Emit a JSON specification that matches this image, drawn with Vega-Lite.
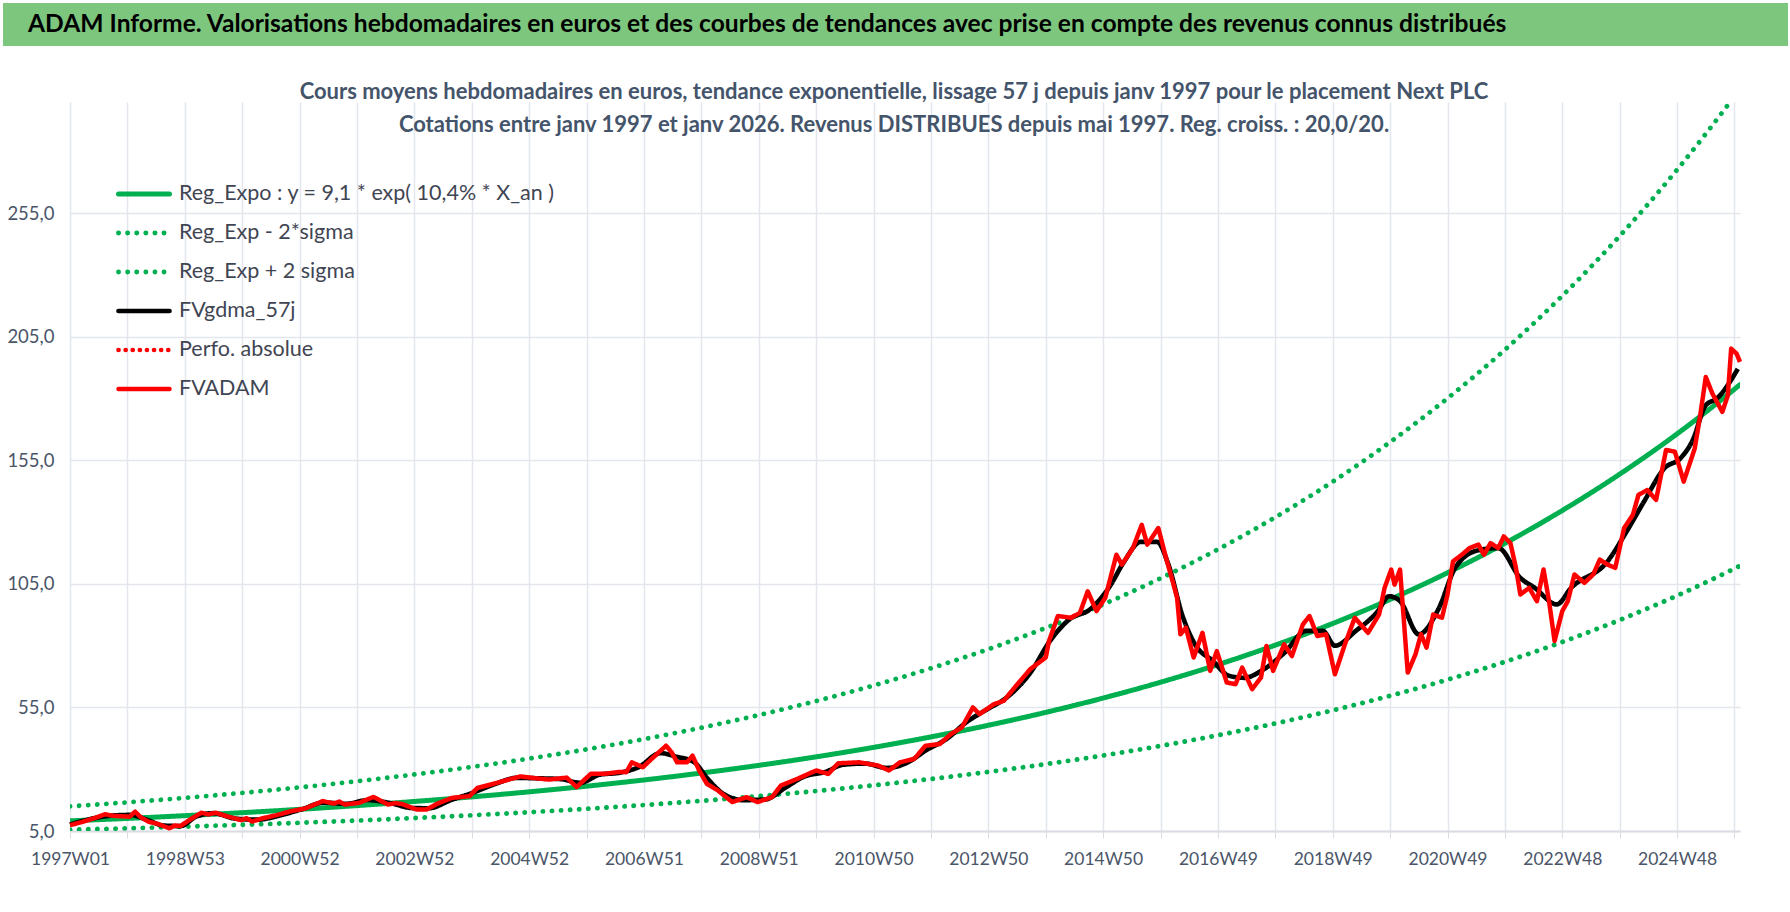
{
  "$schema": "https://vega.github.io/schema/vega-lite/v6.json",
  "width": 1790,
  "height": 912,
  "padding": {"left": 2, "top": 3, "right": 0, "bottom": 0},
  "background": "white",
  "spacing": 35,
  "config": {
    "font": "Lato, DejaVu Sans Condensed, sans-serif",
    "view": {"stroke": null}
  },
  "datasets": {
    "fv": [
      {"w": 0, "v": 7.4}, {"w": 5, "v": 7.9}, {"w": 12, "v": 8.8}, {"w": 20, "v": 9.9}, {"w": 32, "v": 11.8}, {"w": 38, "v": 11.2}, {"w": 45, "v": 11.0}, {"w": 54, "v": 10.8}, {"w": 59, "v": 12.8},
      {"w": 64, "v": 10.6}, {"w": 71, "v": 8.8}, {"w": 80, "v": 7.8}, {"w": 90, "v": 6.1}, {"w": 95, "v": 7.2}, {"w": 100, "v": 7.0}, {"w": 108, "v": 9.4}, {"w": 119, "v": 12.4},
      {"w": 125, "v": 11.7}, {"w": 132, "v": 12.4}, {"w": 142, "v": 11.0}, {"w": 155, "v": 9.4}, {"w": 160, "v": 10.2}, {"w": 165, "v": 8.8}, {"w": 174, "v": 10.1}, {"w": 187, "v": 11.4},
      {"w": 200, "v": 13.0}, {"w": 213, "v": 14.1}, {"w": 229, "v": 17.1}, {"w": 239, "v": 16.1}, {"w": 244, "v": 16.9}, {"w": 249, "v": 15.7}, {"w": 262, "v": 16.4}, {"w": 275, "v": 18.8},
      {"w": 288, "v": 15.7}, {"w": 295, "v": 16.3}, {"w": 301, "v": 15.9}, {"w": 314, "v": 13.7}, {"w": 323, "v": 13.7}, {"w": 333, "v": 16.1}, {"w": 346, "v": 18.4}, {"w": 362, "v": 19.1},
      {"w": 369, "v": 22.4}, {"w": 382, "v": 23.9}, {"w": 395, "v": 25.5}, {"w": 408, "v": 27.1}, {"w": 421, "v": 26.4}, {"w": 434, "v": 25.8}, {"w": 450, "v": 26.6}, {"w": 459, "v": 22.8},
      {"w": 472, "v": 28.2}, {"w": 485, "v": 28.2}, {"w": 498, "v": 28.9}, {"w": 504, "v": 28.8}, {"w": 509, "v": 32.8}, {"w": 519, "v": 30.8}, {"w": 527, "v": 34.2}, {"w": 540, "v": 39.5},
      {"w": 545, "v": 36.9}, {"w": 550, "v": 32.8}, {"w": 559, "v": 32.8}, {"w": 564, "v": 35.5}, {"w": 570, "v": 29.5}, {"w": 577, "v": 24.1}, {"w": 587, "v": 21.4}, {"w": 600, "v": 16.7},
      {"w": 613, "v": 18.7}, {"w": 623, "v": 16.7}, {"w": 636, "v": 18.7}, {"w": 644, "v": 23.4}, {"w": 659, "v": 26.1}, {"w": 676, "v": 29.5}, {"w": 687, "v": 28.1}, {"w": 696, "v": 32.4},
      {"w": 715, "v": 32.8}, {"w": 732, "v": 31.5}, {"w": 742, "v": 29.5}, {"w": 752, "v": 32.8}, {"w": 765, "v": 34.2}, {"w": 775, "v": 39.5}, {"w": 788, "v": 40.2}, {"w": 798, "v": 44.2},
      {"w": 808, "v": 46.9}, {"w": 818, "v": 55.0}, {"w": 824, "v": 52.3}, {"w": 837, "v": 56.3}, {"w": 846, "v": 57.7}, {"w": 857, "v": 63.7}, {"w": 870, "v": 70.5}, {"w": 884, "v": 75.2},
      {"w": 887, "v": 81.9}, {"w": 895, "v": 92.0}, {"w": 907, "v": 91.3}, {"w": 915, "v": 93.3}, {"w": 922, "v": 102.0}, {"w": 930, "v": 94.0}, {"w": 938, "v": 99.4}, {"w": 948, "v": 116.8},
      {"w": 953, "v": 112.8}, {"w": 963, "v": 119.5}, {"w": 971, "v": 128.9}, {"w": 976, "v": 120.9}, {"w": 986, "v": 127.6}, {"w": 993, "v": 115.5}, {"w": 999, "v": 106.0}, {"w": 1003, "v": 99.4},
      {"w": 1006, "v": 84.6}, {"w": 1011, "v": 87.3}, {"w": 1018, "v": 75.2}, {"w": 1026, "v": 85.2}, {"w": 1033, "v": 69.8}, {"w": 1039, "v": 77.8}, {"w": 1048, "v": 65.1}, {"w": 1056, "v": 64.4},
      {"w": 1062, "v": 71.1}, {"w": 1071, "v": 62.4}, {"w": 1079, "v": 67.1}, {"w": 1084, "v": 79.9}, {"w": 1090, "v": 69.8}, {"w": 1100, "v": 80.5}, {"w": 1107, "v": 75.8}, {"w": 1117, "v": 88.6},
      {"w": 1123, "v": 92.0}, {"w": 1130, "v": 83.9}, {"w": 1138, "v": 84.6}, {"w": 1146, "v": 68.4}, {"w": 1155, "v": 80.5}, {"w": 1164, "v": 91.3}, {"w": 1176, "v": 85.2}, {"w": 1186, "v": 92.6},
      {"w": 1191, "v": 103.4}, {"w": 1197, "v": 110.8}, {"w": 1200, "v": 104.7}, {"w": 1205, "v": 110.8}, {"w": 1212, "v": 69.1}, {"w": 1219, "v": 76.5}, {"w": 1224, "v": 84.6}, {"w": 1229, "v": 79.2},
      {"w": 1235, "v": 92.6}, {"w": 1243, "v": 91.3}, {"w": 1248, "v": 100.7}, {"w": 1253, "v": 114.1}, {"w": 1261, "v": 116.8}, {"w": 1268, "v": 119.5}, {"w": 1276, "v": 120.9}, {"w": 1281, "v": 116.8},
      {"w": 1287, "v": 121.5}, {"w": 1294, "v": 119.5}, {"w": 1299, "v": 124.2}, {"w": 1305, "v": 121.5}, {"w": 1310, "v": 111.5}, {"w": 1314, "v": 100.7}, {"w": 1322, "v": 103.4}, {"w": 1329, "v": 98.0},
      {"w": 1335, "v": 110.8}, {"w": 1340, "v": 98.0}, {"w": 1345, "v": 81.9}, {"w": 1352, "v": 94.0}, {"w": 1357, "v": 98.0}, {"w": 1363, "v": 108.8}, {"w": 1372, "v": 105.4}, {"w": 1380, "v": 108.8},
      {"w": 1386, "v": 114.8}, {"w": 1393, "v": 112.8}, {"w": 1400, "v": 111.5}, {"w": 1408, "v": 127.6}, {"w": 1416, "v": 133.0}, {"w": 1421, "v": 141.0}, {"w": 1429, "v": 143.0}, {"w": 1437, "v": 139.0},
      {"w": 1446, "v": 159.2}, {"w": 1454, "v": 158.5}, {"w": 1462, "v": 146.4}, {"w": 1472, "v": 159.8}, {"w": 1477, "v": 173.3}, {"w": 1482, "v": 188.7}, {"w": 1488, "v": 182.0}, {"w": 1497, "v": 174.6},
      {"w": 1502, "v": 181.3}, {"w": 1505, "v": 200.2}, {"w": 1510, "v": 198.1}, {"w": 1513, "v": 194.8}
    ],
    "gd": [
      {"w": 0, "v": 7.6}, {"w": 20, "v": 10.0}, {"w": 40, "v": 11.3}, {"w": 55, "v": 11.5}, {"w": 70, "v": 9.5}, {"w": 85, "v": 7.2}, {"w": 100, "v": 7.0}, {"w": 115, "v": 11.0},
      {"w": 130, "v": 12.2}, {"w": 150, "v": 10.0}, {"w": 170, "v": 9.6}, {"w": 190, "v": 11.3}, {"w": 210, "v": 13.8}, {"w": 230, "v": 16.5}, {"w": 250, "v": 16.0}, {"w": 270, "v": 17.5},
      {"w": 290, "v": 16.3}, {"w": 310, "v": 14.3}, {"w": 325, "v": 14.2}, {"w": 345, "v": 17.5}, {"w": 365, "v": 20.5}, {"w": 385, "v": 24.0}, {"w": 405, "v": 26.5}, {"w": 425, "v": 26.3},
      {"w": 445, "v": 26.0}, {"w": 462, "v": 24.5}, {"w": 480, "v": 27.8}, {"w": 498, "v": 28.6}, {"w": 515, "v": 30.8}, {"w": 535, "v": 36.5}, {"w": 550, "v": 35.0}, {"w": 565, "v": 33.0},
      {"w": 578, "v": 26.0}, {"w": 592, "v": 20.0}, {"w": 610, "v": 17.5}, {"w": 630, "v": 17.8}, {"w": 648, "v": 22.5}, {"w": 665, "v": 27.0}, {"w": 685, "v": 29.0}, {"w": 700, "v": 31.8},
      {"w": 720, "v": 32.3}, {"w": 740, "v": 30.5}, {"w": 760, "v": 33.0}, {"w": 775, "v": 37.5}, {"w": 795, "v": 42.5}, {"w": 812, "v": 49.0}, {"w": 830, "v": 54.0}, {"w": 850, "v": 59.5},
      {"w": 870, "v": 69.0}, {"w": 888, "v": 82.0}, {"w": 905, "v": 90.5}, {"w": 925, "v": 95.0}, {"w": 942, "v": 104.0}, {"w": 955, "v": 114.0}, {"w": 970, "v": 122.0}, {"w": 985, "v": 122.0},
      {"w": 995, "v": 113.0}, {"w": 1008, "v": 92.0}, {"w": 1020, "v": 80.0}, {"w": 1035, "v": 74.0}, {"w": 1050, "v": 67.8}, {"w": 1064, "v": 67.0}, {"w": 1080, "v": 70.0}, {"w": 1100, "v": 77.0},
      {"w": 1120, "v": 86.0}, {"w": 1135, "v": 86.0}, {"w": 1146, "v": 80.0}, {"w": 1165, "v": 86.0}, {"w": 1185, "v": 94.0}, {"w": 1195, "v": 100.0}, {"w": 1205, "v": 98.0}, {"w": 1222, "v": 84.6},
      {"w": 1240, "v": 95.0}, {"w": 1255, "v": 111.5}, {"w": 1275, "v": 118.5}, {"w": 1294, "v": 119.5}, {"w": 1314, "v": 107.4}, {"w": 1327, "v": 103.4}, {"w": 1347, "v": 96.7}, {"w": 1360, "v": 103.4},
      {"w": 1393, "v": 114.1}, {"w": 1410, "v": 126.0}, {"w": 1426, "v": 138.3}, {"w": 1445, "v": 152.0}, {"w": 1459, "v": 155.8}, {"w": 1470, "v": 163.0}, {"w": 1482, "v": 177.3}, {"w": 1492, "v": 180.0},
      {"w": 1511, "v": 192.0}
    ],
    "tr": [
      {"w": 0, "r": 9.10}, {"w": 52, "r": 10.09}, {"w": 104, "r": 11.20}, {"w": 156, "r": 12.42}, {"w": 208, "r": 13.77}, {"w": 260, "r": 15.28},
      {"w": 312, "r": 16.95}, {"w": 364, "r": 18.80}, {"w": 416, "r": 20.85}, {"w": 468, "r": 23.13}, {"w": 520, "r": 25.65}, {"w": 572, "r": 28.45},
      {"w": 624, "r": 31.56}, {"w": 676, "r": 35.01}, {"w": 728, "r": 38.83}, {"w": 780, "r": 43.07}, {"w": 832, "r": 47.78}, {"w": 884, "r": 52.99},
      {"w": 936, "r": 58.78}, {"w": 988, "r": 65.20}, {"w": 1040, "r": 72.32}, {"w": 1092, "r": 80.22}, {"w": 1144, "r": 88.97}, {"w": 1196, "r": 98.71},
      {"w": 1248, "r": 109.48}, {"w": 1300, "r": 121.42}, {"w": 1352, "r": 134.69}, {"w": 1404, "r": 149.40}, {"w": 1456, "r": 165.71}, {"w": 1508, "r": 183.80},
      {"w": 1513, "r": 185.63}
    ],
    "bande": [
      {"w": 0, "lo": 5.51, "hi": 14.97}, {"w": 52, "lo": 6.10, "hi": 16.60}, {"w": 104, "lo": 6.78, "hi": 18.42}, {"w": 156, "lo": 7.51, "hi": 20.43},
      {"w": 208, "lo": 8.33, "hi": 22.65}, {"w": 260, "lo": 9.24, "hi": 25.14}, {"w": 312, "lo": 10.25, "hi": 27.88}, {"w": 364, "lo": 11.37, "hi": 30.93},
      {"w": 416, "lo": 12.61, "hi": 34.30}, {"w": 468, "lo": 13.99, "hi": 38.05}, {"w": 520, "lo": 15.52, "hi": 42.19}, {"w": 572, "lo": 17.21, "hi": 46.80},
      {"w": 624, "lo": 19.09, "hi": 51.92}, {"w": 676, "lo": 21.18, "hi": 57.59}, {"w": 728, "lo": 23.49, "hi": 63.88}, {"w": 780, "lo": 26.06, "hi": 70.85},
      {"w": 832, "lo": 28.91, "hi": 78.60}, {"w": 884, "lo": 32.06, "hi": 87.17}, {"w": 936, "lo": 35.56, "hi": 96.69}, {"w": 988, "lo": 39.45, "hi": 107.25},
      {"w": 1040, "lo": 43.75, "hi": 118.97}, {"w": 1092, "lo": 48.53, "hi": 131.96}, {"w": 1144, "lo": 53.83, "hi": 146.36}, {"w": 1196, "lo": 59.72, "hi": 162.38},
      {"w": 1248, "lo": 66.24, "hi": 180.09}, {"w": 1300, "lo": 73.46, "hi": 199.74}, {"w": 1352, "lo": 81.49, "hi": 221.57}, {"w": 1404, "lo": 90.39, "hi": 245.76},
      {"w": 1456, "lo": 100.25, "hi": 272.59}, {"w": 1508, "lo": 111.20, "hi": 302.35}, {"w": 1513, "lo": 112.31, "hi": 305.36}
    ],
    "bandeau": [
      {"a": -0.039, "b": 1, "y0": 0, "y1": 1, "q": 0.5, "t": "ADAM Informe. Valorisations hebdomadaires en euros et des courbes de tendances avec prise en compte des revenus connus distribués"}
    ]
  },
  "vconcat": [
    {
      "width": 1718,
      "height": 43,
      "data": {"name": "bandeau"},
      "encoding": {
        "x": {"field": "a", "type": "quantitative", "scale": {"domain": [0, 1], "nice": false, "zero": false}, "axis": null}
      },
      "layer": [
        {
          "mark": {"type": "rect", "color": "#7DC67E", "clip": false},
          "encoding": {
            "x2": {"field": "b"},
            "y": {"field": "y0", "type": "quantitative", "scale": {"domain": [0, 1]}, "axis": null},
            "y2": {"field": "y1"}
          }
        },
        {
          "mark": {"type": "text", "align": "left", "baseline": "middle", "dx": 25, "fontSize": 24.6, "fontWeight": "bold", "color": "#000000", "clip": false},
          "encoding": {
            "y": {"field": "q", "type": "quantitative", "scale": {"domain": [0, 1]}, "axis": null},
            "text": {"field": "t"}
          }
        }
      ]
    },
    {
      "width": 1670,
      "height": 729,
      "title": {
        "text": [
          "Cours moyens hebdomadaires en euros, tendance exponentielle, lissage 57 j depuis janv 1997  pour le placement Next PLC",
          "Cotations entre janv 1997 et janv 2026. Revenus DISTRIBUES depuis mai 1997.  Reg. croiss. : 20,0/20."
        ],
        "fontSize": 22,
        "fontWeight": "bold",
        "color": "#44546A",
        "lineHeight": 33,
        "offset": -35,
        "dx": -11
      },
      "encoding": {
        "x": {
          "field": "w",
          "type": "quantitative",
          "title": null,
          "scale": {"domain": [0, 1513], "nice": false, "zero": false},
          "axis": {
            "values": [0, 52, 104, 156, 208, 260, 312, 364, 416, 468, 520, 572, 624, 676, 728, 780, 832, 884, 936, 988, 1040, 1092, 1144, 1196, 1248, 1300, 1352, 1404, 1456, 1508],
            "labelExpr": "datum.value % 104 == 0 ? ['1997W01','1998W53','2000W52','2002W52','2004W52','2006W51','2008W51','2010W50','2012W50','2014W50','2016W49','2018W49','2020W49','2022W48','2024W48'][datum.value / 104] : ''",
            "labelOverlap": false,
            "labelBound": false,
            "labelFlush": false,
            "labelFontSize": 17.5,
            "labelColor": "#4A5568",
            "labelPadding": 12,
            "tickSize": 7,
            "tickColor": "#D9DDE3",
            "domainColor": "#D9DDE3",
            "domainWidth": 2,
            "grid": true,
            "gridColor": "#E3E6EC",
            "gridWidth": 1.5
          }
        },
        "y": {
          "field": "v",
          "type": "quantitative",
          "title": null,
          "scale": {"domain": [5, 300], "nice": false, "zero": false},
          "axis": {
            "values": [5, 55, 105, 155, 205, 255],
            "labelExpr": "replace(format(datum.value, '.1f'), '.', ',')",
            "labelFontSize": 18.5,
            "labelColor": "#4A5568",
            "labelPadding": 16,
            "ticks": false,
            "domain": false,
            "minExtent": 67,
            "grid": true,
            "gridColor": "#E3E6EC",
            "gridWidth": 1.5
          }
        },
        "color": {
          "field": "serie",
          "type": "nominal",
          "scale": {
            "domain": ["Reg_Expo : y = 9,1 * exp( 10,4% *  X_an )", "Reg_Exp - 2*sigma", "Reg_Exp + 2 sigma", "FVgdma_57j", "Perfo. absolue", "FVADAM"],
            "range": ["#00B050", "#00B050", "#00B050", "#000000", "#FF0000", "#FF0000"]
          },
          "legend": {
            "title": null,
            "orient": "none",
            "legendX": 46,
            "legendY": 163,
            "symbolType": "stroke",
            "symbolSize": 2601,
            "labelFontSize": 21.5,
            "labelColor": "#3F4553",
            "labelOffset": 7,
            "labelLimit": 600,
            "rowPadding": -2,
            "encode": {"symbols": {"update": {"strokeCap": {"value": "round"}}}}
          }
        },
        "strokeDash": {
          "field": "serie",
          "type": "nominal",
          "scale": {
            "domain": ["Reg_Expo : y = 9,1 * exp( 10,4% *  X_an )", "Reg_Exp - 2*sigma", "Reg_Exp + 2 sigma", "FVgdma_57j", "Perfo. absolue", "FVADAM"],
            "range": [[1, 0], [0.1, 9], [0.1, 9], [1, 0], [0.1, 7], [1, 0]]
          }
        },
        "strokeWidth": {
          "field": "serie",
          "type": "nominal",
          "scale": {
            "domain": ["Reg_Expo : y = 9,1 * exp( 10,4% *  X_an )", "Reg_Exp - 2*sigma", "Reg_Exp + 2 sigma", "FVgdma_57j", "Perfo. absolue", "FVADAM"],
            "range": [5, 4.5, 4.5, 3, 3, 5.5]
          }
        }
      },
      "layer": [
        {
          "data": {"name": "tr"},
          "transform": [{"calculate": "'Reg_Expo : y = 9,1 * exp( 10,4% *  X_an )'", "as": "serie"}, {"calculate": "datum.r", "as": "v"}],
          "mark": {"type": "line", "interpolate": "monotone", "strokeCap": "round", "clip": true}
        },
        {
          "data": {"name": "bande"},
          "transform": [{"fold": ["lo", "hi"], "as": ["k", "v"]}, {"calculate": "datum.k == 'lo' ? 'Reg_Exp - 2*sigma' : 'Reg_Exp + 2 sigma'", "as": "serie"}],
          "mark": {"type": "line", "interpolate": "monotone", "strokeCap": "round", "clip": true}
        },
        {
          "data": {"name": "gd"},
          "transform": [{"calculate": "'FVgdma_57j'", "as": "serie"}],
          "mark": {"type": "line", "interpolate": "monotone"}
        },
        {
          "data": {"name": "fv"},
          "transform": [{"calculate": "'FVADAM'", "as": "serie"}],
          "mark": {"type": "line", "strokeJoin": "round"}
        }
      ]
    }
  ]
}
